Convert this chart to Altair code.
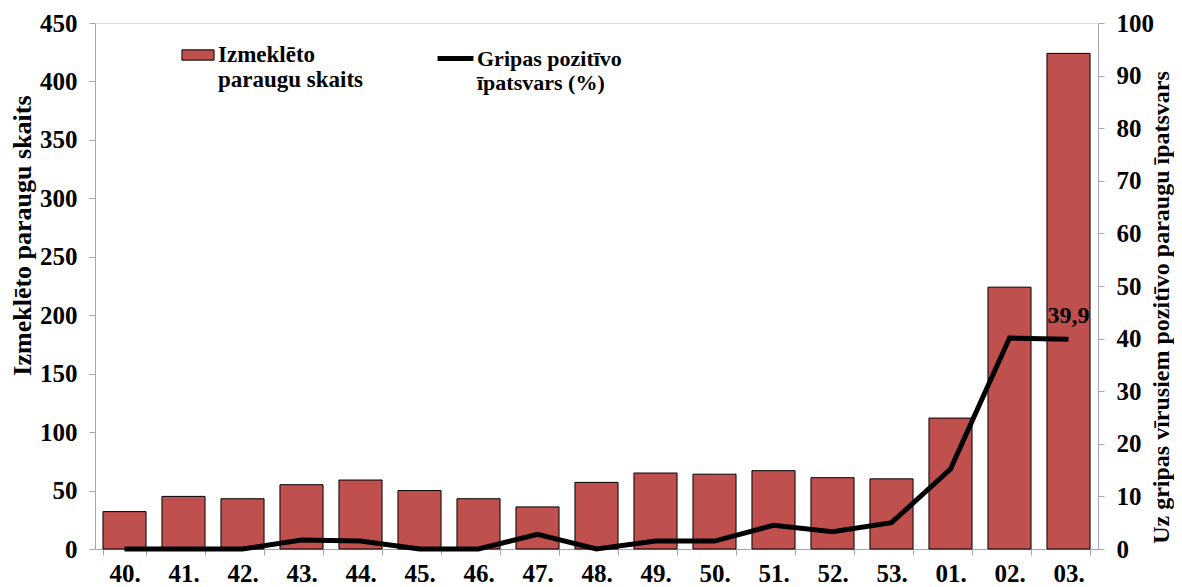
import altair as alt
import pandas as pd

weeks = ["40.", "41.", "42.", "43.", "44.", "45.", "46.", "47.", "48.", "49.",
         "50.", "51.", "52.", "53.", "01.", "02.", "03."]
samples = [32, 45, 43, 55, 59, 50, 43, 36, 57, 65, 64, 67, 61, 60, 112, 224, 424]
positive_pct = [0, 0, 0, 1.7, 1.5, 0, 0, 2.8, 0, 1.5, 1.5, 4.5, 3.3, 5.0, 15.2, 40.1, 39.9]
point_labels = ["", "", "", "", "", "", "", "", "", "", "", "", "", "", "", "", "39,9"]

bar_name = "Izmeklēto\nparaugu skaits"
line_name = "Gripas pozitīvo\nīpatsvars (%)"

df = pd.DataFrame({
    "week": weeks,
    "samples": samples,
    "pct": positive_pct,
    "lab": point_labels,
    "bar_series": [bar_name] * len(weeks),
    "line_series": [line_name] * len(weeks),
})

FONT = "Liberation Serif"
RED = "#C0504D"
GRAY = "#A6A6A6"
TICK_FS = 25

x_enc = alt.X(
    "week:N", sort=weeks, title=None,
    scale=alt.Scale(paddingInner=0.27, paddingOuter=0.135),
    axis=alt.Axis(labelAngle=0, tickBand="extent", domainColor=GRAY, tickColor=GRAY,
                  tickSize=6, labelPadding=6, labelFontSize=TICK_FS, labelFont=FONT,
                  labelFontWeight="bold", labelColor="black", grid=False),
)

bars = alt.Chart(df).mark_bar(stroke="black", strokeWidth=1).encode(
    x=x_enc,
    y=alt.Y("samples:Q", scale=alt.Scale(domain=[0, 450]),
            axis=alt.Axis(values=list(range(0, 451, 50)), title="Izmeklēto paraugu skaits",
                          titleFontSize=26, titleFont=FONT, titleFontWeight="bold",
                          titleAngle=270, titleX=-73, titleY=212, titleAlign="center",
                          titleBaseline="middle", titleColor="black",
                          labelFontSize=TICK_FS, labelFont=FONT, labelFontWeight="bold",
                          labelColor="black", labelPadding=12, tickSize=6,
                          domainColor=GRAY, tickColor=GRAY, grid=False)),
    fill=alt.Fill("bar_series:N", scale=alt.Scale(domain=[bar_name], range=[RED]),
                  legend=alt.Legend(title=None, orient="none", legendX=86, legendY=15,
                                    symbolType="M-1,-0.32L1,-0.32L1,0.32L-1,0.32Z",
                                    symbolSize=1030, symbolStrokeColor="black",
                                    symbolStrokeWidth=1, symbolOpacity=1,
                                    labelFont=FONT, labelFontSize=23, labelFontWeight="bold",
                                    labelColor="black", labelLimit=400, labelOffset=3,
                                    labelExpr="split(datum.label, '\\n')")),
)

line_base = alt.Chart(df).encode(
    x=alt.X("week:N", sort=weeks),
    y=alt.Y("pct:Q", scale=alt.Scale(domain=[0, 100]),
            axis=alt.Axis(orient="right", values=list(range(0, 101, 10)),
                          title="Uz gripas vīrusiem pozitīvo paraugu īpatsvars",
                          titleFontSize=24, titleFont=FONT, titleFontWeight="bold",
                          titleAngle=270, titleX=63, titleY=284, titleAlign="center",
                          titleBaseline="middle", titleColor="black",
                          labelFontSize=TICK_FS, labelFont=FONT, labelFontWeight="bold",
                          labelColor="black", labelPadding=12, tickSize=6,
                          domainColor=GRAY, tickColor=GRAY, grid=False)),
)

line = line_base.mark_line(color="black", strokeWidth=5).encode(
    stroke=alt.Stroke("line_series:N", scale=alt.Scale(domain=[line_name], range=["black"]),
                      legend=alt.Legend(title=None, orient="none", legendX=340, legendY=15,
                                        symbolType="stroke", symbolStrokeWidth=5,
                                        symbolSize=1290,
                                        labelFont=FONT, labelFontSize=22,
                                        labelFontWeight="bold", labelColor="black",
                                        labelLimit=400, labelOffset=1,
                                        labelExpr="split(datum.label, '\\n')")),
)

labels = line_base.mark_text(dy=-23, font=FONT, fontSize=24, fontWeight="bold",
                             color="black").encode(text="lab:N")

chart = alt.layer(bars, alt.layer(line, labels)).resolve_scale(
    y="independent", fill="independent", stroke="independent"
).properties(
    width=1003, height=526,
    padding={"left": 87, "top": 15, "right": 76, "bottom": 38},
    autosize=alt.AutoSizeParams(type="none"),
).configure_view(stroke=None).configure(background="white")

chart.save("out.html", embed_options={"renderer": "svg", "actions": False})
